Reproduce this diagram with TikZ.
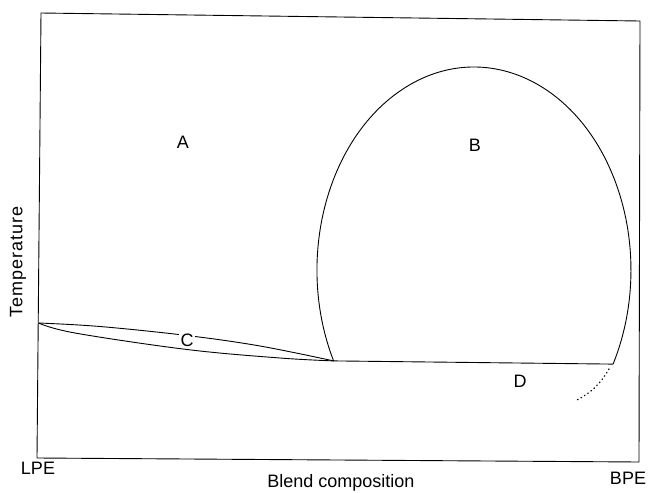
\documentclass[tikz,border=0pt]{standalone}
\usepackage{fontspec}
\setmainfont{Liberation Sans}
\begin{document}
\begin{tikzpicture}[x=1pt,y=-1pt,
  lbl/.style={font=\fontsize{18}{20}\selectfont, inner sep=1pt},
  curve/.style={line width=0.9pt, line join=round}]
\useasboundingbox (0,0) rectangle (649,493);
% frame
\coordinate (tl) at (41,13);
\coordinate (tr) at (640,21);
\coordinate (br) at (639,462);
\coordinate (bl) at (37,458);
\draw[curve] (tl) -- (tr) -- (br) -- (bl) -- cycle;
\coordinate (p0) at (38.5,323);
\coordinate (p1) at (333.6,360.9);
\coordinate (p2) at (613.1,364.1);
% lower C curve
\draw[curve] plot[smooth, tension=0.6] coordinates {(p0) (75,333) (187,349.5) (280,358) (p1)};
% upper C curve
\draw[curve] plot[smooth, tension=0.6] coordinates {(p0) (100,326.5) (187,335.5) (260,346) (p1)};
% line to right
\draw[curve] (p1) -- (p2);
% loop B (elliptic arc)
\draw[curve] (p1) arc[start angle=153.4, end angle=387.6, x radius=157, y radius=203];
% dotted
\draw[line width=1.3pt, line cap=round, dash pattern=on 0.6pt off 3.4pt] (609,369) .. controls (599,386) and (590,393) .. (577,400);
% labels
\node[lbl] (A) at (183,142) {A};
\node[lbl] (B) at (475,145) {B};
\node[lbl, fill=white, inner sep=1.5pt] (C) at (187,340) {C};
\node[lbl] (D) at (520,381) {D};
\node[lbl] (lpe) at (38,468) {LPE};
\node[lbl] (bpe) at (628,478) {BPE};
\node[lbl] (xl) at (341,483) {Blend composition};
\node[lbl, rotate=90] (yl) at (18,262) {\addfontfeature{LetterSpace=6}Temperature};
\end{tikzpicture}
\end{document}
